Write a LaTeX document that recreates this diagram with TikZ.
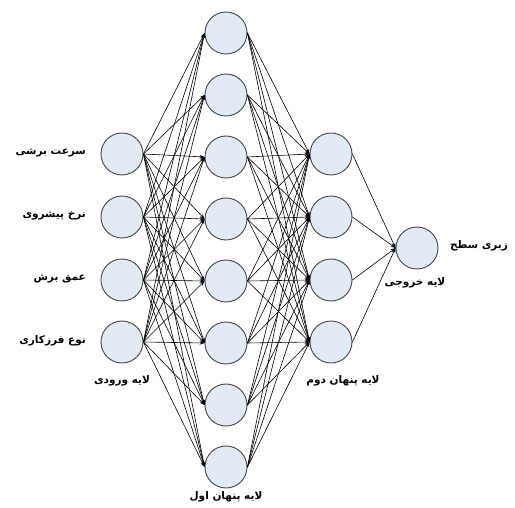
\documentclass[tikz,border=0pt]{standalone}
\usepackage{fontspec}
\usetikzlibrary{arrows.meta}
\newfontfamily\farsi[Script=Arabic]{DejaVu Sans}
\TeXXeTstate=1
\definecolor{cellfill}{RGB}{226,234,246}
\definecolor{celldraw}{RGB}{70,70,70}
\tikzset{
  neuron/.style={circle,draw=celldraw,fill=cellfill,line width=0.9pt,minimum size=42pt,inner sep=0pt},
  lbl/.style={font=\farsi\bfseries\fontsize{10.5}{12}\selectfont,inner sep=1pt},
  link/.style={->,line width=0.6pt}
}
\begin{document}
\begin{tikzpicture}[>={Stealth[length=5pt,width=3.6pt]},x=1pt,y=-1pt,line join=round,line cap=round]
\useasboundingbox (0,0) rectangle (515,508);
% input layer
\foreach \i/\y in {1/154,2/217,3/280,4/342}
  \node[neuron] (I\i) at (122,\y) {};
% first hidden layer
\foreach \j in {1,...,8}
  \node[neuron] (H\j) at (226,{33+62*(\j-1)}) {};
% second hidden layer
\foreach \k/\y in {1/154,2/217,3/280,4/342}
  \node[neuron] (G\k) at (331,\y) {};
% output layer
\node[neuron] (O) at (417,248) {};
% links
\foreach \i in {1,...,4}
  \foreach \j in {1,...,8}
    \draw[link] (I\i.east) -- (H\j.west);
\foreach \j in {1,...,8}
  \foreach \k in {1,...,4}
    \draw[link] (H\j.east) -- (G\k.west);
\foreach \k in {1,...,4}
  \draw[link] (G\k.east) -- (O.west);
% labels
\node[lbl,anchor=east] (in1) at (87,153) {\beginR سرعت برشی\endR};
\node[lbl,anchor=east] (in2) at (87,216) {\beginR نرخ پیشروی\endR};
\node[lbl,anchor=east] (in3) at (87,279) {\beginR عمق برش\endR};
\node[lbl,anchor=east] (in4) at (87,341) {\beginR نوع فرزکاری\endR};
\node[lbl] (out) at (479,246) {\beginR زبری سطح\endR};
\node[lbl] (Lin) at (122,381) {\beginR لایه ورودی\endR};
\node[lbl] (Lh1) at (226,497) {\beginR لایه پنهان اول\endR};
\node[lbl] (Lh2) at (343,381) {\beginR لایه پنهان دوم\endR};
\node[lbl] (Lout) at (415,283) {\beginR لایه خروجی\endR};
\end{tikzpicture}
\end{document}
